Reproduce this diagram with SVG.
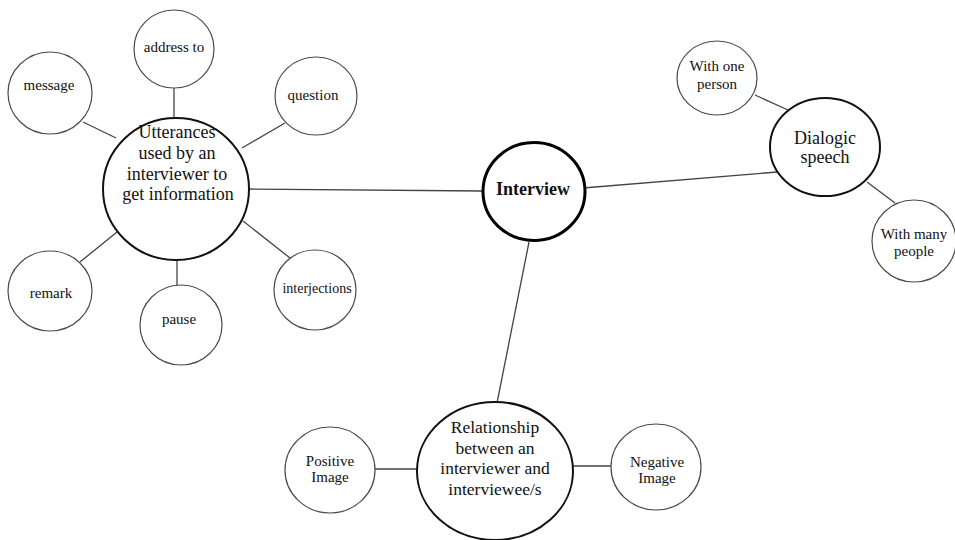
<svg xmlns="http://www.w3.org/2000/svg" width="955" height="540" viewBox="0 0 955 540" font-family="'Liberation Serif', 'Times New Roman', 'DejaVu Serif', serif">
<style>
.bg{fill:#fff}
.sm{fill:#fff;stroke:#4a4a4a;stroke-width:1.2}
.mid{fill:#fff;stroke:#111;stroke-width:2}
.main{fill:#fff;stroke:#000;stroke-width:3}
.ln{stroke:#444;stroke-width:1.3;fill:none}
text{fill:#111;text-anchor:middle}
.t15{font-size:15px}
.t18{font-size:18px}
.b{font-size:18px;font-weight:bold}
</style>
<rect class="bg" x="0" y="0" width="955" height="540"/>
<g id="connectors">
<line class="ln" x1="174" y1="88" x2="174" y2="118"/>
<line class="ln" x1="83" y1="122" x2="116" y2="138"/>
<line class="ln" x1="285" y1="123" x2="242" y2="148"/>
<line class="ln" x1="80" y1="262" x2="117" y2="232"/>
<line class="ln" x1="177" y1="260" x2="177" y2="286"/>
<line class="ln" x1="243" y1="221" x2="290" y2="258"/>
<line class="ln" x1="249" y1="189" x2="483" y2="191"/>
<line class="ln" x1="583" y1="188" x2="777" y2="172"/>
<line class="ln" x1="755" y1="95" x2="788" y2="110"/>
<line class="ln" x1="867" y1="182" x2="895" y2="203"/>
<line class="ln" x1="529" y1="242" x2="497" y2="403"/>
<line class="ln" x1="374" y1="469" x2="418" y2="469"/>
<line class="ln" x1="572" y1="466" x2="611" y2="466"/>
</g>
<g id="utterances">
<ellipse class="mid" cx="176" cy="189" rx="73" ry="71"/>
<text class="t18" x="177" y="138">Utterances</text>
<text class="t18" x="177" y="159">used by an</text>
<text class="t18" x="177" y="179.5">interviewer to</text>
<text class="t18" x="178" y="200">get information</text>
</g>
<g id="address-to">
<ellipse class="sm" cx="174" cy="49" rx="40" ry="39"/>
<text class="t15" x="174" y="52">address to</text>
</g>
<g id="message">
<ellipse class="sm" cx="50" cy="93" rx="42" ry="41"/>
<text class="t15" x="49" y="90">message</text>
</g>
<g id="question">
<ellipse class="sm" cx="316" cy="96" rx="41" ry="39"/>
<text class="t15" x="313" y="100">question</text>
</g>
<g id="remark">
<ellipse class="sm" cx="50" cy="291" rx="42" ry="40"/>
<text class="t15" x="51" y="298">remark</text>
</g>
<g id="pause">
<ellipse class="sm" cx="181" cy="325" rx="41" ry="40"/>
<text class="t15" x="179" y="324">pause</text>
</g>
<g id="interjections">
<ellipse class="sm" cx="315" cy="290" rx="41" ry="40"/>
<text class="t15" x="317" y="293" style="font-size:14px">interjections</text>
</g>
<g id="interview">
<ellipse class="main" cx="534" cy="191.5" rx="51" ry="49"/>
<text class="b" x="533" y="195">Interview</text>
</g>
<g id="dialogic">
<ellipse class="mid" cx="825" cy="147" rx="55" ry="49"/>
<text class="t18" x="825" y="144">Dialogic</text>
<text class="t18" x="825" y="163">speech</text>
</g>
<g id="one-person">
<ellipse class="sm" cx="717" cy="78" rx="40" ry="37"/>
<text class="t15" x="717" y="71">With one</text>
<text class="t15" x="717" y="89">person</text>
</g>
<g id="many-people">
<ellipse class="sm" cx="914" cy="241" rx="42" ry="41"/>
<text class="t15" x="914" y="239">With many</text>
<text class="t15" x="914" y="256">people</text>
</g>
<g id="relationship">
<ellipse class="mid" cx="495" cy="471" rx="78" ry="69"/>
<text class="t18" x="495" y="433" style="font-size:17.5px">Relationship</text>
<text class="t18" x="495" y="453.5" style="font-size:17.5px">between an</text>
<text class="t18" x="495" y="474" style="font-size:17.5px">interviewer and</text>
<text class="t18" x="495" y="495" style="font-size:17.5px">interviewee/s</text>
</g>
<g id="positive">
<ellipse class="sm" cx="330" cy="470" rx="45" ry="43"/>
<text class="t15" x="330" y="466">Positive</text>
<text class="t15" x="330" y="482">Image</text>
</g>
<g id="negative">
<ellipse class="sm" cx="656" cy="467" rx="45" ry="43"/>
<text class="t15" x="657" y="467">Negative</text>
<text class="t15" x="657" y="483">Image</text>
</g>
</svg>
